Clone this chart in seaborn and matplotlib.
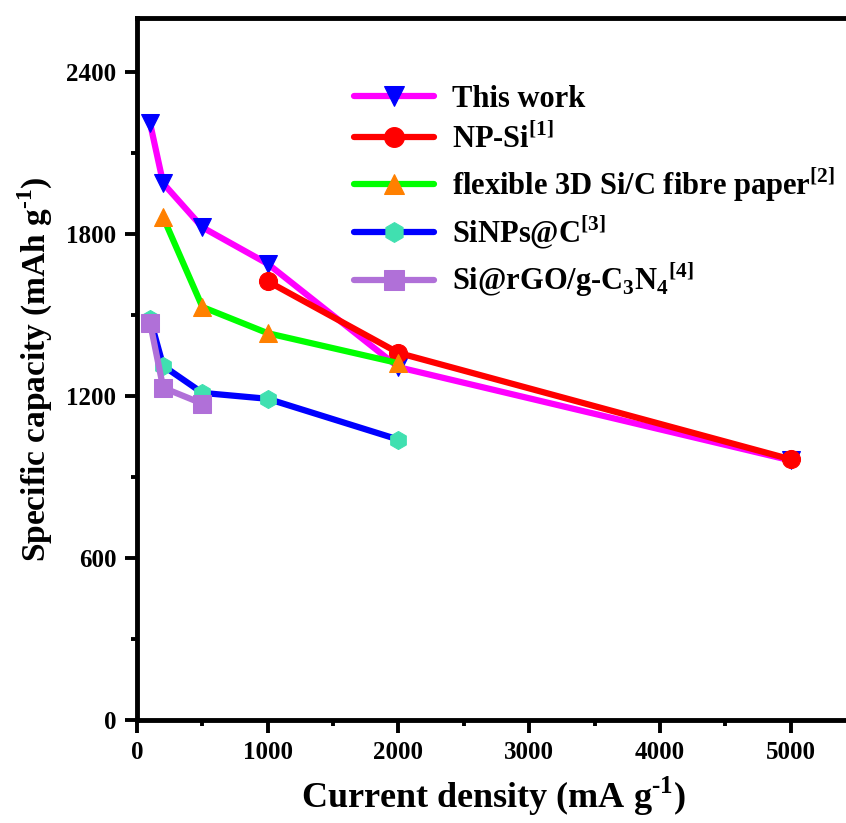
import matplotlib
matplotlib.use("Agg")
import matplotlib.pyplot as plt
import seaborn as sns
import pandas as pd
from matplotlib.ticker import MultipleLocator

sns.set_style("ticks")
plt.rcParams['font.family'] = ['Liberation Serif', 'DejaVu Serif']
plt.rcParams['font.weight'] = 'bold'
plt.rcParams['mathtext.fontset'] = 'custom'
plt.rcParams['mathtext.rm'] = 'Liberation Serif:bold'
plt.rcParams['mathtext.bf'] = 'Liberation Serif:bold'
plt.rcParams['axes.edgecolor'] = 'black'
plt.rcParams['xtick.color'] = 'black'
plt.rcParams['ytick.color'] = 'black'
plt.rcParams['text.color'] = 'black'
plt.rcParams['axes.labelcolor'] = 'black'

this_x = [100, 200, 500, 1000, 2000, 5000]
this_y = [2210, 1988, 1825, 1690, 1307, 962]
np_x = [1000, 2000, 5000]
np_y = [1625, 1360, 966]
flex_x = [200, 500, 1000, 2000]
flex_y = [1862, 1530, 1433, 1322]
sinp_x = [100, 200, 500, 1000, 2000]
sinp_y = [1487, 1312, 1212, 1190, 1039]
rgo_x = [100, 200, 500]
rgo_y = [1471, 1231, 1172]

labels = ["This work", r"NP-Si$^{\mathbf{[1]}}$", r"flexible 3D Si/C fibre paper$^{\mathbf{[2]}}$",
          r"SiNPs@C$^{\mathbf{[3]}}$", r"Si@rGO/g-C$_{\mathbf{3}}$N$_{\mathbf{4}}$$^{\mathbf{[4]}}$"]
series = [(this_x, this_y), (np_x, np_y), (flex_x, flex_y), (sinp_x, sinp_y), (rgo_x, rgo_y)]
line_colors = ["#ff00ff", "#ff0000", "#00ff00", "#0000ff", "#b070d8"]
marker_colors = ["#0000ff", "#ff0000", "#ff8000", "#40e0b0", "#b070d8"]
markers = ["v", "o", "^", "h", "s"]

fig = plt.figure(figsize=(8.46, 8.23), dpi=100)
ax = fig.add_axes([0.162, 0.125, 0.842, 0.853])

for (xs, ys), lab, lc, mc, mk in zip(series, labels, line_colors, marker_colors, markers):
    df = pd.DataFrame({"x": xs, "y": ys})
    sns.lineplot(data=df, x="x", y="y", ax=ax, color=lc, linewidth=4.5, marker=mk,
                 markersize=13, markerfacecolor=mc, markeredgecolor=mc, label=lab,
                 solid_capstyle="round")

ax.set_xlim(0, 5450)
ax.set_ylim(0, 2600)
ax.xaxis.set_major_locator(MultipleLocator(1000))
ax.xaxis.set_minor_locator(MultipleLocator(500))
ax.yaxis.set_major_locator(MultipleLocator(600))
ax.yaxis.set_minor_locator(MultipleLocator(300))
ax.tick_params(which='major', direction='out', length=9, width=2.8, labelsize=18, pad=6)
ax.tick_params(which='minor', direction='out', length=4, width=2.8)
for s in ax.spines.values():
    s.set_linewidth(3.5)
ax.spines['right'].set_visible(False)
for t in ax.get_xticklabels() + ax.get_yticklabels():
    t.set_fontweight('bold')

ax.set_xlabel("Current density (mA g$^{\\mathbf{\u2010}\\mathbf{1}}$)", fontsize=26, fontweight='bold', labelpad=8)
ax.set_ylabel("Specific capacity (mAh g$^{\\mathbf{\u2010}\\mathbf{1}}$)", fontsize=24, fontweight='bold', labelpad=8)

leg = ax.legend(loc='upper left', bbox_to_anchor=(0.305, 0.905), frameon=False,
                prop={'family': 'Liberation Serif', 'weight': 'bold', 'size': 22},
                handlelength=2.6, labelspacing=0.33, handletextpad=0.6,
                borderpad=0, borderaxespad=0, markerscale=1.1)

fig.savefig("out.png", dpi=100)
